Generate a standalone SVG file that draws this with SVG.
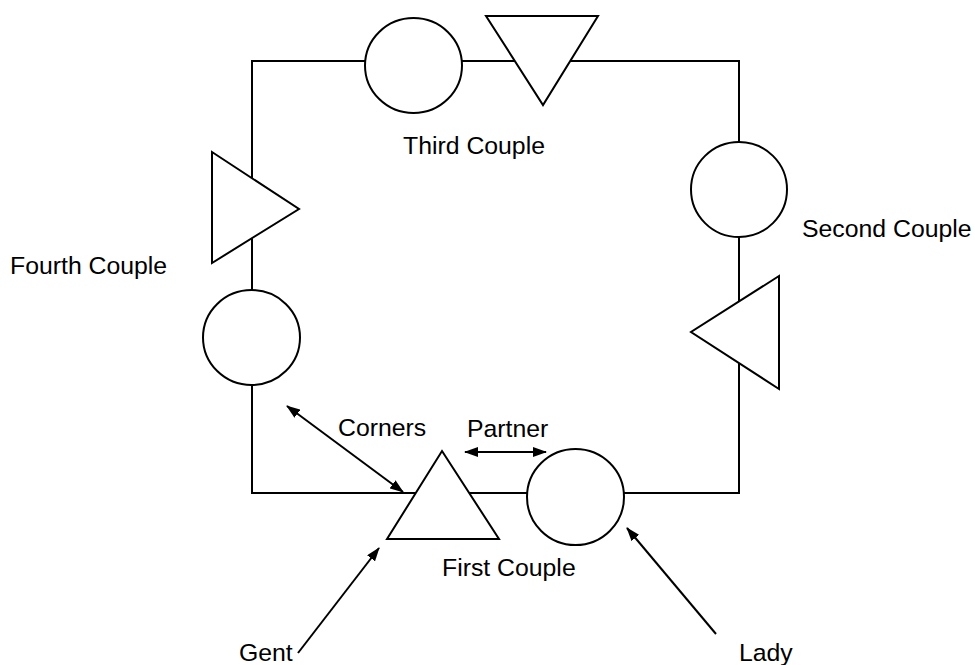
<svg xmlns="http://www.w3.org/2000/svg" width="975" height="665" viewBox="0 0 975 665">
<style>
.s{fill:#fff;stroke:#000;stroke-width:2}
.l{fill:none;stroke:#000;stroke-width:2}
.a{fill:none;stroke:#000;stroke-width:2}
text{font-family:"Liberation Sans",Arial,sans-serif;font-size:24.8px;fill:#000}
</style>
<defs>
<marker id="ah" viewBox="0 0 14 10" refX="13" refY="5" markerWidth="14" markerHeight="10" markerUnits="userSpaceOnUse" orient="auto-start-reverse">
<path d="M0,0 L14,5 L0,10 Z" fill="#000"/>
</marker>
</defs>
<rect width="975" height="665" fill="#fff"/>
<g id="connectors">
<path class="l" d="M252,61 H739 V493 H252 Z"/>
<line class="a" x1="287" y1="406" x2="403" y2="492" marker-start="url(#ah)" marker-end="url(#ah)"/>
<line class="a" x1="465" y1="452" x2="546" y2="452" marker-start="url(#ah)" marker-end="url(#ah)"/>
<line class="a" x1="298" y1="653" x2="379" y2="548" marker-end="url(#ah)"/>
<line class="a" x1="716" y1="634" x2="627" y2="528" marker-end="url(#ah)"/>
</g>
<g id="third-couple">
<ellipse class="s" cx="413.5" cy="65.5" rx="48.5" ry="47.5"/>
<polygon class="s" points="486,16 598,16 543,105"/>
<text x="403" y="154">Third Couple</text>
</g>
<g id="second-couple">
<ellipse class="s" cx="739" cy="189.5" rx="48" ry="47.5"/>
<polygon class="s" points="779,276 779,389 691,332"/>
<text x="802" y="237">Second Couple</text>
</g>
<g id="fourth-couple">
<polygon class="s" points="212,152 212,263 299,209"/>
<ellipse class="s" cx="251.5" cy="337.5" rx="48.5" ry="47.5"/>
<text x="10" y="274">Fourth Couple</text>
</g>
<g id="first-couple">
<polygon class="s" points="442,451 499,539 387,539"/>
<ellipse class="s" cx="575.5" cy="497" rx="48.5" ry="48"/>
<text x="442" y="576">First Couple</text>
</g>
<g id="labels">
<text x="338" y="436">Corners</text>
<text x="467" y="437">Partner</text>
<text x="239" y="661">Gent</text>
<text x="739" y="661">Lady</text>
</g>
</svg>
